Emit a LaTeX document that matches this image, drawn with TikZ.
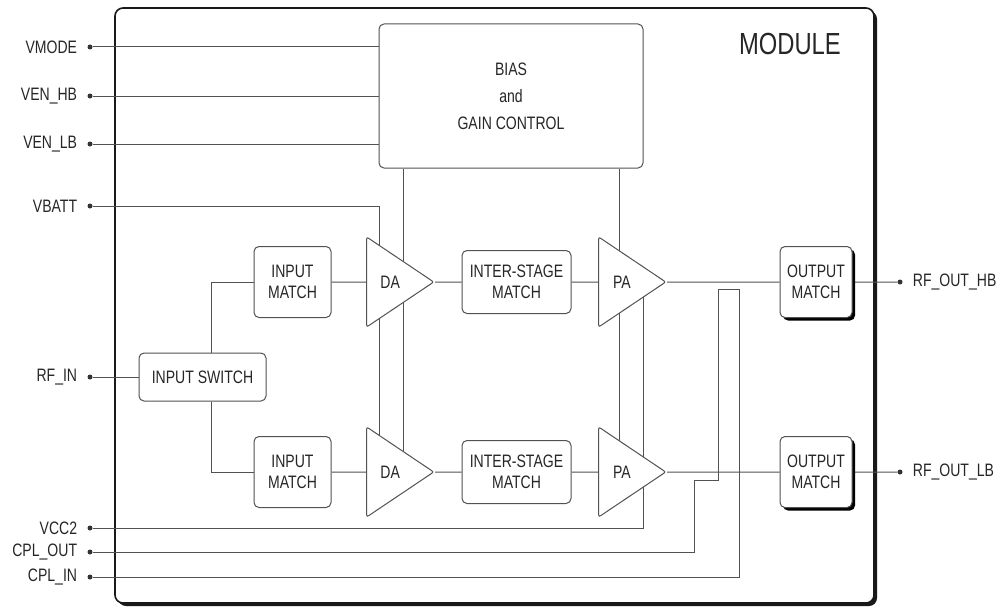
\documentclass[tikz,border=0pt]{standalone}
\usepackage{fontspec}
\setmainfont{Liberation Sans}[FakeStretch=0.78]
\usetikzlibrary{positioning,shapes.geometric,shadows,backgrounds}
\colorlet{ln}{black!68}
\colorlet{tx}{black!85}
\newcommand{\padl}[3]{\node[pad, label={[lbl]left:#2}] (#1) at (90,#3) {};}
\newcommand{\padr}[3]{\node[pad, label={[lbl]right:#2}] (#1) at (900,#3) {};}
\tikzset{txt/.style={text=tx, font=\fontsize{18}{21}\selectfont},
         lbl/.style={txt, inner sep=0pt, label distance=10pt},
         pad/.style={circle, fill=black!80, inner sep=0pt, minimum size=5pt},
         wire/.style={draw=ln, line width=1pt},
         blk/.style 2 args={draw=ln, line width=1pt, fill=white, rounded corners=5pt,
            txt, align=center, inner sep=0pt, minimum width=#1pt, minimum height=#2pt},
         omb/.style={blk={72}{71}, drop shadow={shadow xshift=3pt, shadow yshift=-3pt,
            fill=black, opacity=1}},
         amp/.style={isosceles triangle, isosceles triangle stretches, draw=ln, line width=1pt,
            fill=white, rounded corners=2pt, minimum width=90pt, minimum height=67pt,
            inner sep=0pt, anchor=apex, txt}}

\begin{document}
\begin{tikzpicture}[x=1pt, y=-1pt]
\useasboundingbox (0,0) rectangle (1006,610);
 \node[blk={264}{144}] (bias) at (511,96) {BIAS\\[6pt]and\\[6pt]GAIN CONTROL};
 \node[blk={127}{48}] (sw) at (202.5,377) {INPUT SWITCH};
 \node[blk={77}{71}] (im1) at (292.5,282) {INPUT\\MATCH};
 \node[blk={77}{71}] (im2) at (292.5,472) {INPUT\\MATCH};
 \node[amp] (da1) at (435,282) {DA};
 \node[amp] (da2) at (435,472) {DA};
 \node[blk={109}{63}] (is1) at (516.5,282) {INTER-STAGE\\MATCH};
 \node[blk={109}{63}] (is2) at (516.5,472) {INTER-STAGE\\MATCH};
 \node[amp] (pa1) at (667,282) {PA};
 \node[amp] (pa2) at (667,472) {PA};
 \node[omb] (om1) at (816,282) {OUTPUT\\MATCH};
 \node[omb] (om2) at (816,472) {OUTPUT\\MATCH};
 \node[text=tx, font=\fontsize{30.5}{34}\selectfont, anchor=base east, inner sep=0pt]
    (ttl) at (841,55) {MODULE};
 % pins
 \padl{vmode}{VMODE}{47}
 \padl{venhb}{VEN\_HB}{96}
 \padl{venlb}{VEN\_LB}{144}
 \padl{vbatt}{VBATT}{206}
 \padl{rfin}{RF\_IN}{377}
 \padl{vcc}{VCC2}{528}
 \padl{cplout}{CPL\_OUT}{552}
 \padl{cplin}{CPL\_IN}{577}
 \padr{rfhb}{RF\_OUT\_HB}{282}
 \padr{rflb}{RF\_OUT\_LB}{472}
 \coordinate (sx) at (211,0);
 \coordinate (vb) at (379,0);
 \coordinate (bg1) at (403,0);
 \coordinate (bg2) at (619,0);
 \coordinate (vc) at (643,0);
 \coordinate (c1) at (694,480);
 \coordinate (c2) at (718,289);
 \coordinate (c3) at (739,289);
\begin{scope}[on background layer]
 \node[draw=black!90, line width=1.6pt, fill=white, rounded corners=8pt,
    minimum width=759pt, minimum height=595pt, drop shadow={shadow xshift=3pt,
    shadow yshift=-3pt, fill=black!90, opacity=1}] (mod) at (494.5,305.5) {};
 \draw[wire] (vmode) -- (vmode -| bias.west);
 \draw[wire] (venhb) -- (venhb -| bias.west);
 \draw[wire] (venlb) -- (venlb -| bias.west);
 \draw[wire] (vbatt) -| (vb |- da2);
 \draw[wire] (bg1 |- bias.south) -- (bg1 |- da2);
 \draw[wire] (bg2 |- bias.south) -- (bg2 |- pa2);
 \draw[wire] (vcc) -| (vc |- pa1);
 \draw[wire] (cplout) -| (c1) -| (c2) -| (c3 |- cplin) -- (cplin);
 \draw[wire] (rfin) -- (sw);
 \draw[wire] (sx |- sw.north) |- (im1);
 \draw[wire] (sx |- sw.south) |- (im2);
 \draw[wire] (im1) -- (da1) -- (is1) -- (pa1) -- (om1) -- (rfhb);
 \draw[wire] (im2) -- (da2) -- (is2) -- (pa2) -- (om2) -- (rflb);
\end{scope}
\end{tikzpicture}
\end{document}
